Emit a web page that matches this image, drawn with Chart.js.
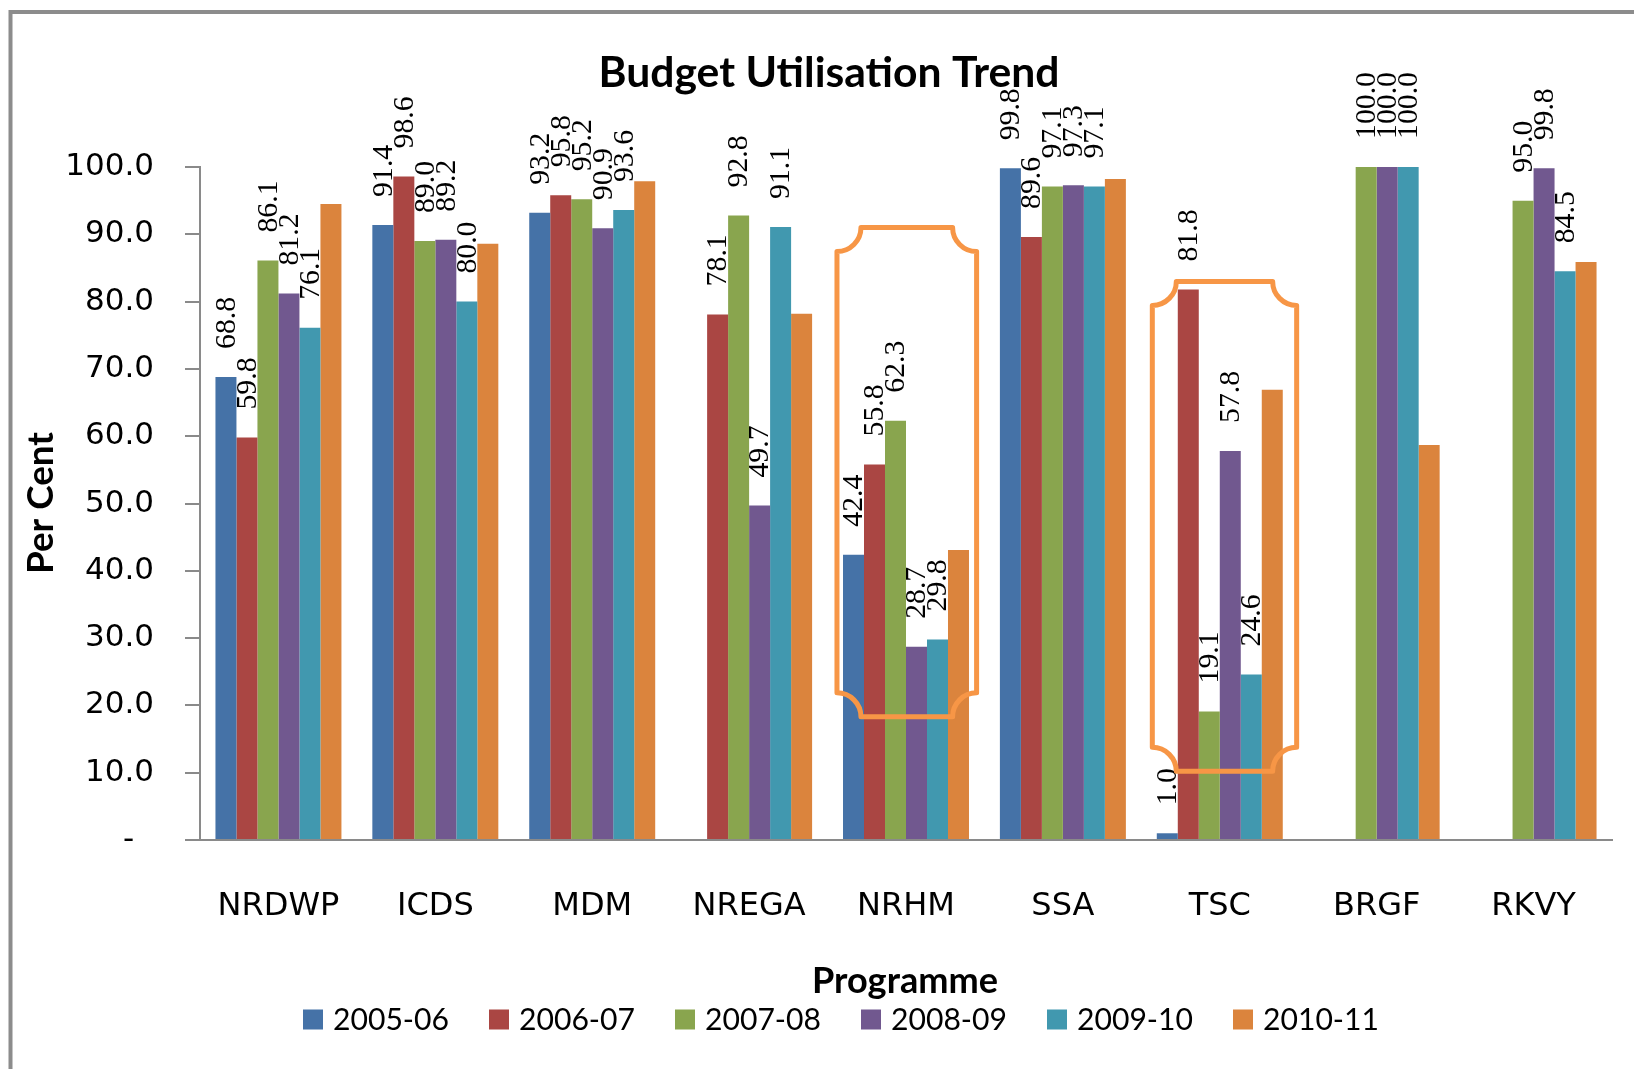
<!DOCTYPE html>
<html>
<head>
<meta charset="utf-8">
<script src="https://cdn.jsdelivr.net/npm/chart.js@4.4.1/dist/chart.umd.min.js"></script>
<style>
  html, body { margin: 0; padding: 0; background: #ffffff; }
  #wrap { width: 1634px; height: 1069px; position: relative; }
</style>
</head>
<body>
<div id="wrap"><canvas id="c"></canvas></div>
<script>
// ---------- data ----------
const categories = ['NRDWP', 'ICDS', 'MDM', 'NREGA', 'NRHM', 'SSA', 'TSC', 'BRGF', 'RKVY'];
const seriesNames = ['2005-06', '2006-07', '2007-08', '2008-09', '2009-10', '2010-11'];
const s2005_06 = [68.8, 91.4, 93.2, null, 42.4, 99.8, 1.0, null, null];
const s2006_07 = [59.8, 98.6, 95.8, 78.1, 55.8, 89.6, 81.8, null, null];
const s2007_08 = [86.1, 89.0, 95.2, 92.8, 62.3, 97.1, 19.1, 100.0, 95.0];
const s2008_09 = [81.2, 89.2, 90.9, 49.7, 28.7, 97.3, 57.8, 100.0, 99.8];
const s2009_10 = [76.1, 80.0, 93.6, 91.1, 29.8, 97.1, 24.6, 100.0, 84.5];
const s2010_11 = [94.5, 88.6, 97.9, 78.2, 43.1, 98.2, 66.9, 58.7, 85.9];
const yTickLabels = ['-  ', '10.0', '20.0', '30.0', '40.0', '50.0', '60.0', '70.0', '80.0', '90.0', '100.0'];
const labelledSeries = [true, true, true, true, true, false];
const callouts = [
  { category: 'NRHM', top: 91.0, bottom: 18.3, left: -0.44, right: 0.45 },
  { category: 'TSC',  top: 83.0, bottom: 10.2, left: -0.43, right: 0.49 }
];

// ---------- styles ----------
const seriesColors = ['#4572A7', '#AA4643', '#89A54E', '#71588F', '#4198AF', '#DB843D'];
const axisGray = '#8a8a8a';
const allSeries = [s2005_06, s2006_07, s2007_08, s2008_09, s2009_10, s2010_11];

function fitFont(ctx, text, weight, family, target) {
  ctx.font = weight + ' 100px ' + family;
  const w = ctx.measureText(text).width;
  return weight + ' ' + (100 * target / w).toFixed(2) + 'px ' + family;
}

const decorPlugin = {
  id: 'decor',
  beforeDraw(chart) {
    const ctx = chart.ctx;
    ctx.save();
    ctx.fillStyle = '#ffffff';
    ctx.fillRect(0, 0, chart.width, chart.height);
    ctx.strokeStyle = '#8c8c8c';
    ctx.lineWidth = 4;
    ctx.strokeRect(10.5, 12, 1700, 1100);
    ctx.restore();
  },
  afterDatasetsDraw(chart) {
    const ctx = chart.ctx;
    ctx.save();
    ctx.fillStyle = '#000000';
    ctx.font = fitFont(ctx, '100.0', 'normal', "'Liberation Serif', 'DejaVu Serif', serif", 67);
    ctx.textAlign = 'left';
    ctx.textBaseline = 'middle';
    chart.data.datasets.forEach((ds, di) => {
      if (!labelledSeries[di]) return;
      const meta = chart.getDatasetMeta(di);
      meta.data.forEach((bar, j) => {
        const v = ds.data[j];
        if (v === null || v === undefined) return;
        ctx.save();
        ctx.translate(bar.x, bar.y - 28);
        ctx.rotate(-Math.PI / 2);
        ctx.fillText(v.toFixed(1), 0, 1);
        ctx.restore();
      });
    });
    ctx.restore();
  },
  afterDraw(chart) {
    const ctx = chart.ctx;
    const xs = chart.scales.x, ys = chart.scales.y;
    const catW = (xs.right - xs.left) / categories.length;
    // callouts
    ctx.save();
    ctx.strokeStyle = '#F79646';
    ctx.lineWidth = 5;
    ctx.lineJoin = 'round';
    callouts.forEach(c => {
      const idx = categories.indexOf(c.category);
      const cx = xs.getPixelForValue(idx);
      const x0 = cx + c.left * catW, x1 = cx + c.right * catW;
      const y0 = ys.getPixelForValue(c.top), y1 = ys.getPixelForValue(c.bottom);
      const r = 24;
      ctx.beginPath();
      ctx.moveTo(x0 + r, y0);
      ctx.lineTo(x1 - r, y0);
      ctx.arc(x1, y0, r, Math.PI, Math.PI / 2, true);
      ctx.lineTo(x1, y1 - r);
      ctx.arc(x1, y1, r, 3 * Math.PI / 2, Math.PI, true);
      ctx.lineTo(x0 + r, y1);
      ctx.arc(x0, y1, r, 0, -Math.PI / 2, true);
      ctx.lineTo(x0, y0 + r);
      ctx.arc(x0, y0, r, Math.PI / 2, 0, true);
      ctx.closePath();
      ctx.stroke();
    });
    ctx.restore();

    // title
    ctx.save();
    ctx.fillStyle = '#000000';
    ctx.textAlign = 'center';
    ctx.textBaseline = 'alphabetic';
    ctx.font = fitFont(ctx, 'Budget Utilisation Trend', 'bold', 'Lato', 461);
    ctx.fillText('Budget Utilisation Trend', 829, 87);
    // x axis title
    ctx.font = fitFont(ctx, 'Programme', 'bold', 'Lato', 186);
    ctx.fillText('Programme', 905, 993);
    // y axis title
    ctx.save();
    ctx.translate(53, 503);
    ctx.rotate(-Math.PI / 2);
    ctx.font = fitFont(ctx, 'Per Cent', 'bold', 'Lato', 142);
    ctx.fillText('Per Cent', 0, 0);
    ctx.restore();
    // legend
    const legFont = fitFont(ctx, '2005-06', 'normal', 'Lato', 116);
    ctx.textAlign = 'left';
    seriesNames.forEach((name, i) => {
      const bx = 303 + i * 186;
      ctx.fillStyle = seriesColors[i];
      ctx.fillRect(bx, 1009.5, 20, 20);
      ctx.fillStyle = '#000000';
      ctx.font = legFont;
      ctx.fillText(name, bx + 30, 1030);
    });
    ctx.restore();
  }
};

const datasets = seriesNames.map((name, i) => ({
  label: name,
  data: allSeries[i],
  backgroundColor: seriesColors[i],
  borderWidth: 0,
  barPercentage: 1.0,
  categoryPercentage: 0.803
}));

new Chart(document.getElementById('c'), {
  type: 'bar',
  data: { labels: categories, datasets },
  options: {
    responsive: true,
    maintainAspectRatio: false,
    animation: false,
    devicePixelRatio: 1,
    layout: { padding: { top: 167, right: 22, bottom: 0, left: 0 } },
    plugins: {
      legend: { display: false },
      title: { display: false },
      tooltip: { enabled: false }
    },
    scales: {
      x: {
        grid: { display: false, drawTicks: false },
        border: { display: true, color: axisGray, width: 2 },
        ticks: {
          padding: 47,
          color: '#000000',
          font: { family: "'DejaVu Sans'", size: 32 },
          maxRotation: 0,
          autoSkip: false
        },
        afterFit(scale) { scale.height = 229; }
      },
      y: {
        min: 0,
        max: 100,
        grid: { drawOnChartArea: false, drawTicks: true, tickLength: 15, color: axisGray, lineWidth: 2 },
        border: { display: true, color: axisGray, width: 2 },
        ticks: {
          stepSize: 10,
          padding: 31,
          color: '#000000',
          font: { family: "'DejaVu Sans'", size: 31 },
          callback: (value) => yTickLabels[Math.round(value / 10)]
        },
        afterFit(scale) { scale.width = 200; }
      }
    }
  },
  plugins: [decorPlugin]
});
</script>
</body>
</html>
